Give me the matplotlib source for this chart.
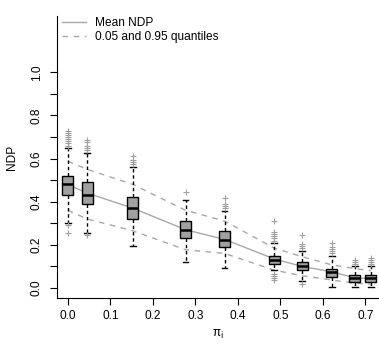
import matplotlib
matplotlib.use("Agg")
import matplotlib.pyplot as plt
import numpy as np

# pi_i positions of the boxes
pi = [0.0, 0.045, 0.153, 0.277, 0.369, 0.485, 0.551, 0.621, 0.675, 0.713]

# box statistics
q1 = [0.43, 0.39, 0.32, 0.23, 0.19, 0.11, 0.083, 0.052, 0.03, 0.028]
med = [0.48, 0.43, 0.372, 0.27, 0.222, 0.13, 0.102, 0.073, 0.048, 0.045]
q3 = [0.52, 0.49, 0.42, 0.31, 0.264, 0.148, 0.12, 0.09, 0.06, 0.06]
whislo = [0.30, 0.253, 0.195, 0.122, 0.094, 0.083, 0.034, 0.003, 0.003, 0.003]
whishi = [0.647, 0.628, 0.56, 0.41, 0.358, 0.21, 0.173, 0.15, 0.10, 0.10]
fliers = [
    [0.66, 0.67, 0.68, 0.69, 0.70, 0.71, 0.72, 0.73, 0.29, 0.255],
    [0.64, 0.65, 0.66, 0.675, 0.685, 0.245],
    [0.575, 0.585, 0.595, 0.61],
    [0.446],
    [0.37, 0.38, 0.39, 0.415],
    [0.22, 0.23, 0.24, 0.25, 0.26, 0.31, 0.065, 0.055, 0.045, 0.037],
    [0.185, 0.195, 0.205, 0.245, 0.018],
    [0.16, 0.17, 0.18, 0.19, 0.207],
    [0.11, 0.12, 0.13],
    [0.11, 0.12, 0.128, 0.137],
]

# mean NDP and 0.05 / 0.95 quantiles
mean_ndp = [0.48, 0.44, 0.37, 0.27, 0.225, 0.135, 0.10, 0.075, 0.047, 0.043]
q05 = [0.36, 0.32, 0.265, 0.177, 0.16, 0.083, 0.057, 0.037, 0.022, 0.018]
q95 = [0.588, 0.55, 0.48, 0.36, 0.31, 0.185, 0.145, 0.107, 0.09, 0.08]

plt.rcParams["font.family"] = ["Liberation Sans", "DejaVu Sans"]

fig = plt.figure(figsize=(3.79, 3.44), dpi=100)
ax = fig.add_axes([0.150, 0.134, 0.85, 0.819])

stats = []
for i in range(len(pi)):
    stats.append(dict(med=med[i], q1=q1[i], q3=q3[i], whislo=whislo[i],
                      whishi=whishi[i], fliers=fliers[i]))

ax.plot(pi, mean_ndp, color="#a8a8a8", lw=1, label="Mean NDP", zorder=1)
ax.plot(pi, q05, color="#a8a8a8", lw=1, ls=(0, (4, 4)),
        label="0.05 and 0.95 quantiles", zorder=1)
ax.plot(pi, q95, color="#a8a8a8", lw=1, ls=(0, (4, 4)), zorder=1)

ax.bxp(stats, positions=pi, widths=0.026, patch_artist=True,
       boxprops=dict(facecolor="#a0a0a0", edgecolor="black", lw=1),
       medianprops=dict(color="black", lw=1.8),
       whiskerprops=dict(color="black", lw=1, ls=(0, (2.5, 2))),
       capprops=dict(color="black", lw=1),
       capwidths=0.013,
       flierprops=dict(marker="+", markeredgecolor="#a0a0a0", markersize=4,
                       markeredgewidth=0.8),
       manage_ticks=False, zorder=3)

ax.set_xlim(-0.026, 0.732)
ax.set_ylim(-0.046, 1.26)
ax.set_xticks(np.arange(0, 0.71, 0.1))
ax.set_xticklabels([f"{v:.1f}" for v in np.arange(0, 0.71, 0.1)])
ax.set_yticks(np.arange(0, 1.01, 0.2))
ax.set_yticklabels([f"{v:.1f}" for v in np.arange(0, 1.01, 0.2)],
                   rotation=90, va="center")
ax.set_yticks(np.arange(0.1, 1.0, 0.2), minor=True)
ax.tick_params(axis="both", which="both", direction="out", length=5,
               labelsize=8.6, width=0.8)
ax.tick_params(axis="x", pad=4)
ax.tick_params(axis="y", pad=5)

ax.spines["top"].set_visible(False)
ax.spines["right"].set_visible(False)

ax.set_ylabel("NDP", fontsize=8.6, labelpad=9)
ax.set_xlabel("π$_{\\mathrm{i}}$", fontsize=8.6, labelpad=4)

ax.legend(loc="upper left", bbox_to_anchor=(-0.018, 1.035), frameon=False,
          fontsize=8.6, handlelength=2.0, labelspacing=0.15, handletextpad=0.8)

fig.savefig("out.png", dpi=100)
